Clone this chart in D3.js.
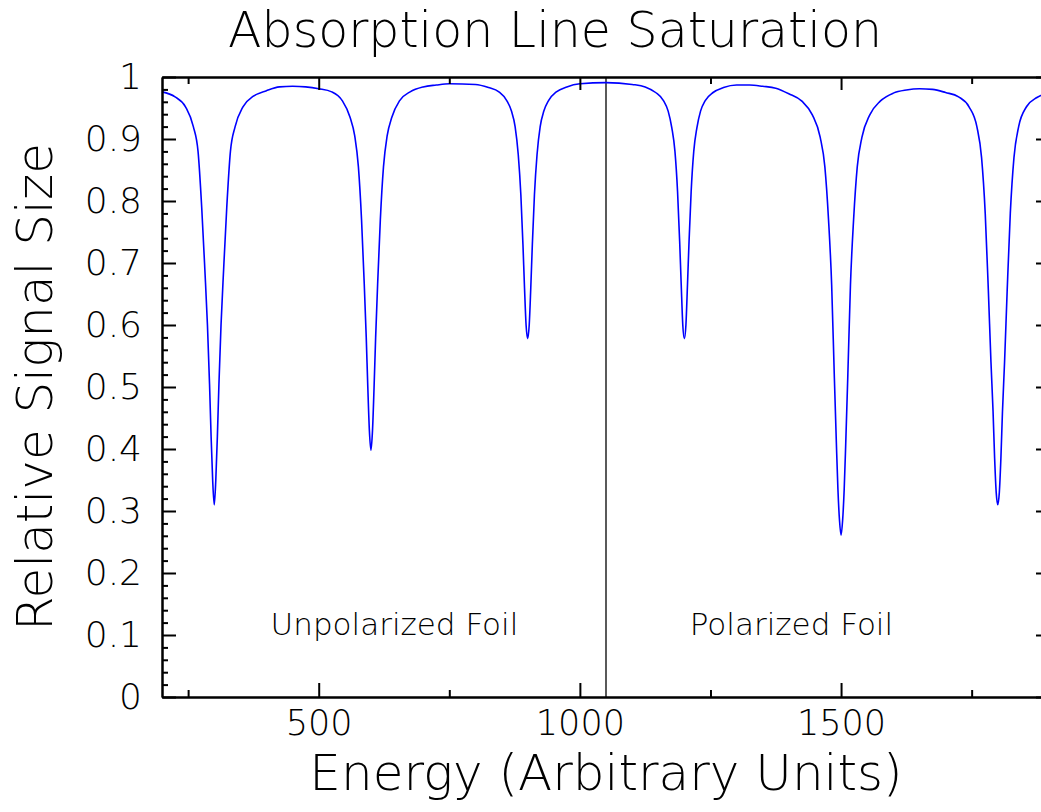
<!DOCTYPE html>
<html lang="en">
<head>
    <meta charset="UTF-8">
    <title>Absorption Line Saturation</title>
    <script src="https://d3js.org/d3.v7.min.js"></script>
    <style>
        body {
            margin: 0;
            background: #fff;
        }
        svg text {
            font-family: "DejaVu Sans", sans-serif;
            font-weight: 200;
            fill: #000;
        }
        .frame path,
        .frame line {
            stroke: #000;
            stroke-width: 2;
        }
    </style>
</head>
<body>
    <svg id="chart" width="1041" height="812"></svg>

    <script>
        // line centres and the sample offsets (energy units) read around each dip
        const dipCenters = [300, 600, 900, 1200, 1500, 1800];
        const dipOffsets = [-100, -75, -55, -40, -31, -24, -18, -13, -9, -6, -3, 0,
                            3, 6, 9, 13, 18, 24, 31, 40, 55, 75, 100];

        const signal300 = [0.976, 0.968, 0.952, 0.920, 0.880, 0.790, 0.690, 0.600, 0.505, 0.420, 0.350, 0.310,
                           0.350, 0.420, 0.505, 0.600, 0.690, 0.790, 0.880, 0.920, 0.952, 0.969, 0.978];
        const signal600 = [0.981, 0.976, 0.962, 0.935, 0.905, 0.855, 0.770, 0.670, 0.580, 0.500, 0.430, 0.398,
                           0.430, 0.500, 0.580, 0.670, 0.770, 0.855, 0.905, 0.935, 0.962, 0.976, 0.984];
        const signal900 = [0.988, 0.983, 0.976, 0.962, 0.945, 0.920, 0.875, 0.810, 0.730, 0.660, 0.600, 0.578,
                           0.600, 0.660, 0.730, 0.810, 0.875, 0.920, 0.945, 0.962, 0.976, 0.984, 0.989];
        const signal1200 = [0.988, 0.984, 0.975, 0.962, 0.945, 0.918, 0.880, 0.815, 0.735, 0.665, 0.600, 0.578,
                            0.600, 0.665, 0.735, 0.815, 0.880, 0.918, 0.945, 0.962, 0.975, 0.983, 0.987];
        const signal1500 = [0.973, 0.961, 0.939, 0.903, 0.855, 0.770, 0.665, 0.520, 0.410, 0.335, 0.285, 0.261,
                            0.285, 0.335, 0.410, 0.520, 0.665, 0.770, 0.855, 0.903, 0.939, 0.961, 0.974];
        const signal1800 = [0.975, 0.968, 0.952, 0.920, 0.870, 0.780, 0.655, 0.540, 0.460, 0.385, 0.330, 0.310,
                            0.330, 0.385, 0.460, 0.540, 0.655, 0.780, 0.870, 0.920, 0.952, 0.967, 0.975];
        const dipSignals = [signal300, signal600, signal900, signal1200, signal1500, signal1800];

        // plateau values between neighbouring lines
        const gapEnergy = [425, 450, 475, 725, 750, 1050, 1325, 1350, 1375, 1625, 1650, 1675];
        const gapSignal = [0.984, 0.985, 0.984, 0.987, 0.989, 0.991, 0.987, 0.985, 0.982, 0.979, 0.981, 0.980];

        const dividerEnergy = 1050;
        const regionLabels = ["Unpolarized Foil", "Polarized Foil"];
        const regionLabelEnergy = [645, 1405];

        const xMajor = [500, 1000, 1500];
        const xMinor = [250, 750, 1250, 1750];
        const yMajor = d3.range(0, 11).map(i => i / 10);
        const yMinor = d3.range(0, 51).map(i => i / 50).filter((d, i) => i % 5 !== 0);

        const margin = {top: 77, right: -9, bottom: 115, left: 162},
              width = 1041 - margin.left - margin.right,
              height = 812 - margin.top - margin.bottom;

        const svg = d3.select("#chart");
        const g = svg.append("g")
            .attr("transform", `translate(${margin.left},${margin.top})`);

        const x = d3.scaleLinear().domain([200, 1900]).range([0, width]);
        const y = d3.scaleLinear().domain([0, 1]).range([height, 0]);

        let points = [];
        dipCenters.forEach((c, i) => {
            dipOffsets.forEach((o, j) => points.push({e: c + o, v: dipSignals[i][j]}));
        });
        gapEnergy.forEach((e, i) => points.push({e: e, v: gapSignal[i]}));
        points.sort((a, b) => a.e - b.e);

        // divider between the two foils
        g.append("line")
            .attr("x1", x(dividerEnergy)).attr("x2", x(dividerEnergy))
            .attr("y1", 0).attr("y2", height)
            .attr("stroke", "#000")
            .attr("stroke-width", 1.3);

        const line = d3.line()
            .x(d => x(d.e))
            .y(d => y(d.v))
            .curve(d3.curveMonotoneX);

        g.append("path")
            .datum(points)
            .attr("d", line)
            .attr("fill", "none")
            .attr("stroke", "#0000ff")
            .attr("stroke-width", 1.6);

        // frame with inward ticks on all four sides
        const fmt = d3.format("~g");

        g.append("g").attr("class", "frame")
            .call(d3.axisLeft(y).tickValues(yMajor).tickSize(-14).tickSizeOuter(0)
                .tickPadding(20).tickFormat(fmt))
            .call(a => a.selectAll("text").style("font-size", "36px"));
        g.append("g").attr("class", "frame")
            .call(d3.axisLeft(y).tickValues(yMinor).tickSize(-6).tickSizeOuter(0).tickFormat(""));

        g.append("g").attr("class", "frame")
            .attr("transform", `translate(${width},0)`)
            .call(d3.axisRight(y).tickValues(yMajor).tickSize(-14).tickSizeOuter(0).tickFormat(""));
        g.append("g").attr("class", "frame")
            .attr("transform", `translate(${width},0)`)
            .call(d3.axisRight(y).tickValues(yMinor).tickSize(-6).tickSizeOuter(0).tickFormat(""));

        g.append("g").attr("class", "frame")
            .attr("transform", `translate(0,${height})`)
            .call(d3.axisBottom(x).tickValues(xMajor).tickSize(-14).tickSizeOuter(0)
                .tickPadding(13).tickFormat(fmt))
            .call(a => a.selectAll("text").style("font-size", "35px"));
        g.append("g").attr("class", "frame")
            .attr("transform", `translate(0,${height})`)
            .call(d3.axisBottom(x).tickValues(xMinor).tickSize(-7).tickSizeOuter(0).tickFormat(""));

        g.append("g").attr("class", "frame")
            .call(d3.axisTop(x).tickValues(xMajor).tickSize(-13).tickSizeOuter(0).tickFormat(""));
        g.append("g").attr("class", "frame")
            .call(d3.axisTop(x).tickValues(xMinor).tickSize(-7).tickSizeOuter(0).tickFormat(""));

        regionLabels.forEach((t, i) => {
            g.append("text")
                .attr("x", x(regionLabelEnergy[i]))
                .attr("y", y(0.1))
                .attr("text-anchor", "middle")
                .style("font-size", "31px")
                .text(t);
        });

        svg.append("text")
            .attr("x", 555)
            .attr("y", 47)
            .attr("text-anchor", "middle")
            .style("font-size", "49px")
            .text("Absorption Line Saturation");

        svg.append("text")
            .attr("x", margin.left + width / 2)
            .attr("y", 790)
            .attr("text-anchor", "middle")
            .style("font-size", "50px")
            .text("Energy (Arbitrary Units)");

        svg.append("text")
            .attr("transform", `translate(52,${margin.top + height / 2}) rotate(-90)`)
            .attr("text-anchor", "middle")
            .style("font-size", "50px")
            .text("Relative Signal Size");
    </script>
</body>
</html>
